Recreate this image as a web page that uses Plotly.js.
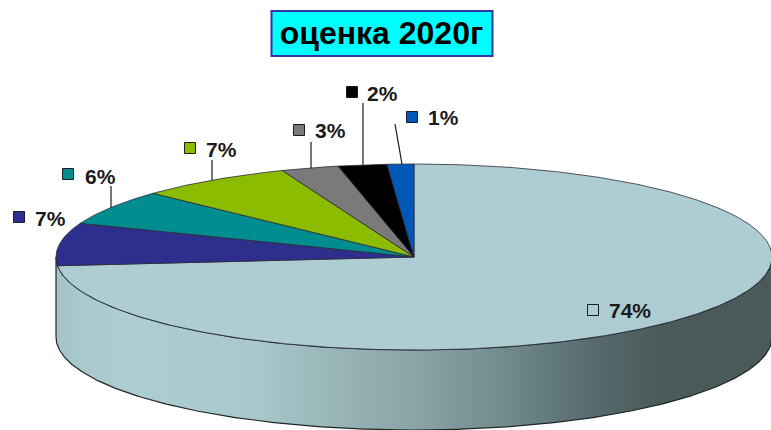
<!DOCTYPE html>
<html>
<head>
<meta charset="utf-8">
<script src="https://cdn.plot.ly/plotly-3.0.1.min.js"></script>
<style>html,body{margin:0;padding:0;background:#fff}#c{width:771px;height:430px}</style>
</head>
<body>
<div id="c"></div>
<script>
// Data, clockwise from 12 o'clock
const values = [73.5, 7.4, 6.1, 7.0, 2.6, 2.2, 1.2];
const colors = ['#aecdd3', '#2e2e8c', '#008d8f', '#8cbc00', '#7a7a7a', '#000000', '#0058b8'];
const chartTitle = 'оценка 2020г';

// Label layout (page pixels): key square centre, text start
const keyX = [593, 19, 68, 190, 299, 352, 412];
const keyY = [310, 217, 174, 148, 130, 92, 117];
const textX = [607, 33, 83, 204, 313, 365, 426];
const textY = [310, 218, 176, 149, 130, 93, 117];
// Leader line top end (page pixels) per slice; null = no leader
const leaderX = [null, null, 111, 212, 311, 363, 395];
const leaderTopY = [null, null, 186, 160, 142, 103, 124];
const leaderBaseX = [null, null, 111, 212, 311, 363, 402];

// Pie geometry
const cx = 414, cy = 257, rx = 358, ry = 93, depth = 80;
const pt = (deg, dy = 0) => {
  const a = deg * Math.PI / 180;
  return [cx + rx * Math.sin(a), cy - ry * Math.cos(a) + dy];
};
const arc = (from, to, dy = 0) => {
  const n = Math.max(2, Math.ceil(Math.abs(to - from) * 2));
  const out = [];
  for (let i = 0; i <= n; i++) out.push(pt(from + (to - from) * i / n, dy));
  return out;
};

const traces = [];

// Side wall: front half of the ellipse, top rim then bottom rim
const front = arc(90, 270);
const back = arc(270, 90, depth);
const wall = front.concat(back);
wall.push(wall[0]);
traces.push({
  type: 'scatter', mode: 'lines', hoverinfo: 'skip', showlegend: false,
  x: wall.map(p => p[0]), y: wall.map(p => p[1]),
  fill: 'toself',
  fillgradient: {
    type: 'horizontal',
    colorscale: [
      [0, '#a4c3c8'], [0.04, '#a9c9ce'], [0.1, '#aecdd3'], [0.28, '#a9c8cc'],
      [0.36, '#9cb9bc'], [0.5, '#8aa4a7'], [0.62, '#738c8e'], [0.74, '#586d6f'],
      [0.84, '#4b5a5a'], [1, '#4b5959']
    ]
  },
  line: {color: '#1f2626', width: 1.2}
});

const total = values.reduce((a, b) => a + b, 0);
let cum = 0;
const starts = values.map(v => { const s = cum; cum += v; return s; });

// Slices
values.forEach((v, i) => {
  const a0 = starts[i] / total * 360, a1 = (starts[i] + v) / total * 360;
  const pts = [[cx, cy]].concat(arc(a0, a1));
  pts.push([cx, cy]);
  traces.push({
    type: 'scatter', mode: 'lines', hoverinfo: 'skip', showlegend: false,
    x: pts.map(p => p[0]), y: pts.map(p => p[1]),
    fill: 'toself', fillcolor: colors[i],
    line: {color: '#2a2a3a', width: 0.8}
  });
});

// Leaders
values.forEach((v, i) => {
  if (leaderX[i] === null) return;
  const base = cy - ry * Math.sqrt(1 - Math.pow((leaderBaseX[i] - cx) / rx, 2));
  traces.push({
    type: 'scatter', mode: 'lines', hoverinfo: 'skip', showlegend: false,
    x: [leaderBaseX[i], leaderX[i]], y: [base, leaderTopY[i]],
    line: {color: '#1a1a1a', width: 1.2}
  });
});

// Label keys
traces.push({
  type: 'scatter', mode: 'markers', hoverinfo: 'skip', showlegend: false,
  x: keyX, y: keyY,
  marker: {symbol: 'square', size: 11, color: colors, line: {color: '#1a1a2a', width: 1}}
});

const annotations = values.map((v, i) => ({
  x: textX[i], y: textY[i], xref: 'x', yref: 'y',
  xanchor: 'left', yanchor: 'middle', showarrow: false,
  text: Math.round(v) + '%',
  font: {family: 'Liberation Sans, Arial, sans-serif', size: 21, color: '#1a1a1a', weight: 700}
}));

const layout = {
  width: 771, height: 430,
  margin: {l: 0, r: 0, t: 0, b: 0},
  paper_bgcolor: '#ffffff', plot_bgcolor: '#ffffff',
  showlegend: false,
  title: {
    text: '<b>' + chartTitle + '</b>',
    x: 381.5 / 771, xanchor: 'center', xref: 'paper',
    y: 1 - 33 / 430, yanchor: 'middle', yref: 'container',
    font: {family: 'Liberation Sans, Arial, sans-serif', size: 32, color: '#000000'}
  },
  xaxis: {range: [0, 771], visible: false, fixedrange: true},
  yaxis: {range: [430, 0], visible: false, fixedrange: true},
  shapes: [{
    type: 'rect', xref: 'x', yref: 'y', x0: 271.5, x1: 492.5, y0: 11, y1: 56,
    fillcolor: '#00ffff', line: {color: '#3333aa', width: 2}, layer: 'below'
  }],
  annotations
};

Plotly.newPlot('c', traces, layout, {displayModeBar: false, staticPlot: true});
</script>
</body>
</html>
